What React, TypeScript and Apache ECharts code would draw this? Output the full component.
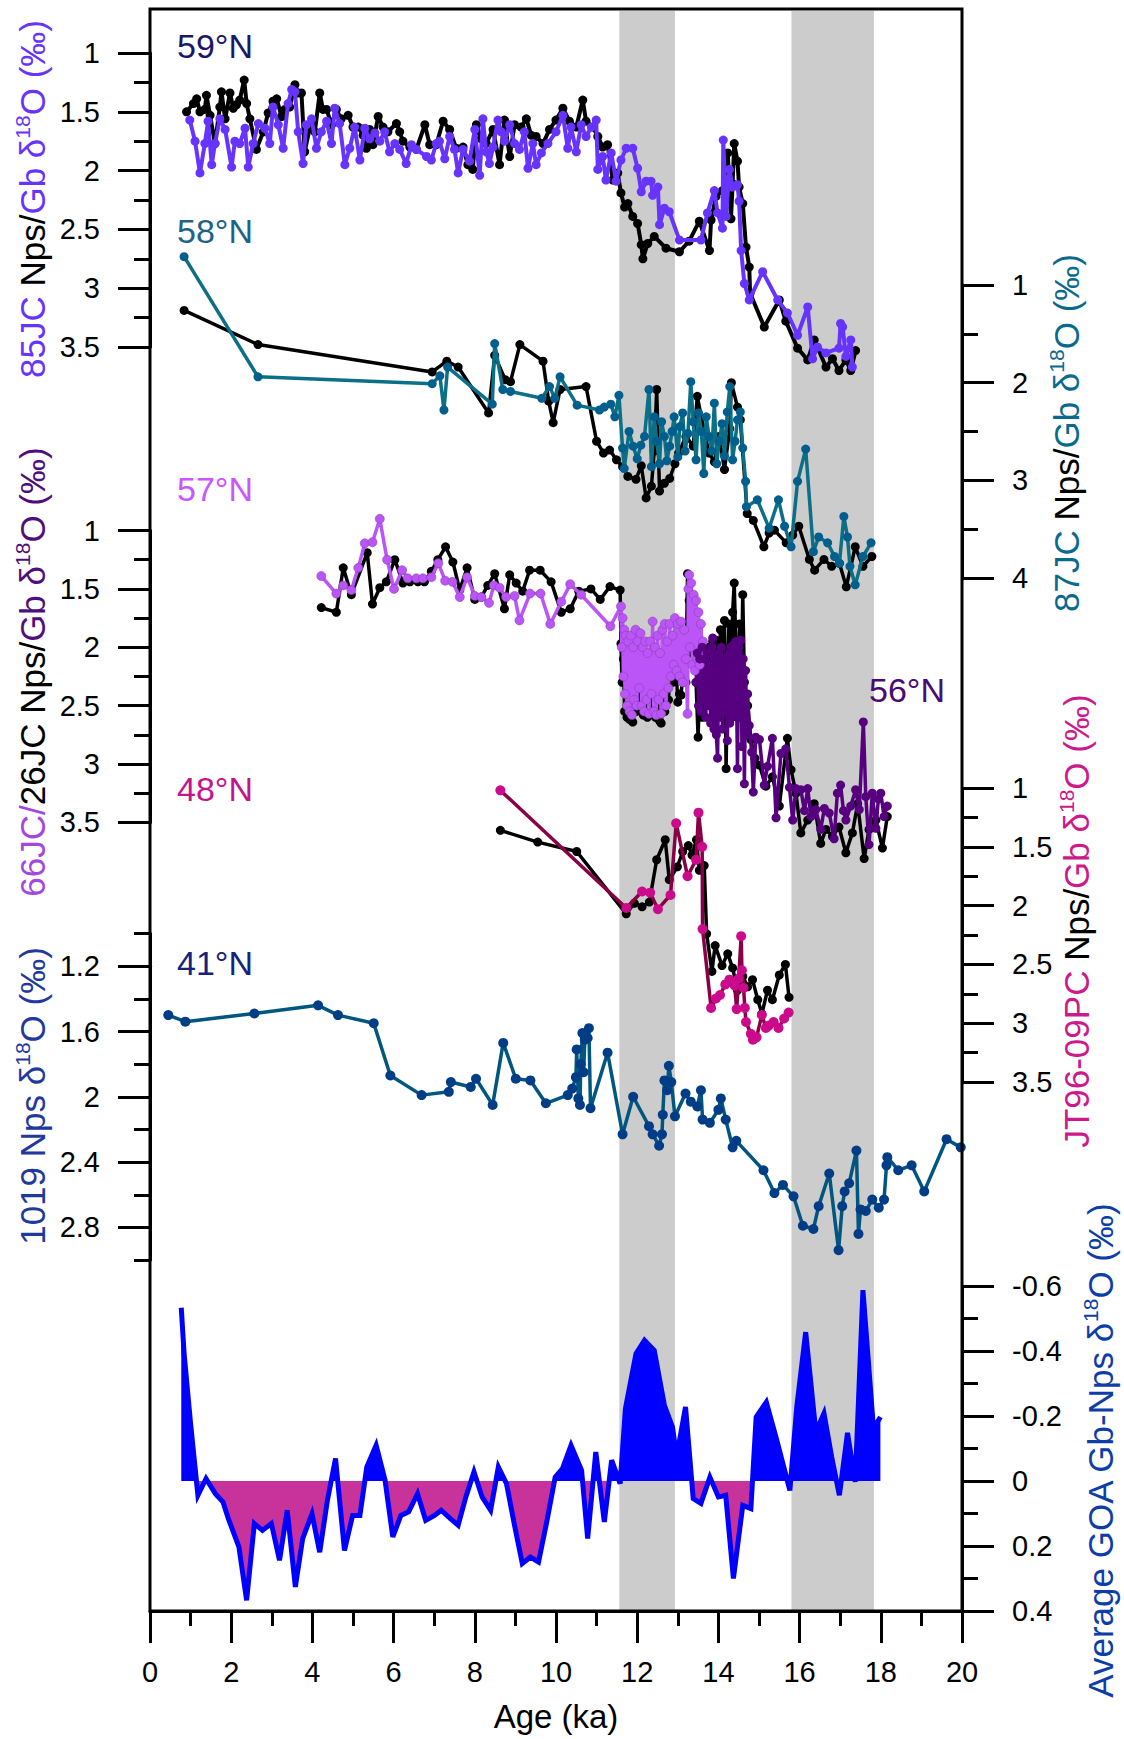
import React, { useEffect, useRef } from "react";
import * as echarts from "echarts";

// ---------- DATA (age ka, value permil) ----------
const ageTicks = [0, 2, 4, 6, 8, 10, 12, 14, 16, 18, 20];
const bands = [
  [11.56, 12.93],
  [15.8, 17.83],
];

// 59N, 85JC
const gb85 = [[0.98,1.57],[1.11,1.75],[1.23,2.02],[1.35,1.77],[1.43,1.58],[1.52,1.95],[1.60,1.77],[1.72,1.56],[1.85,1.65],[2.01,1.97],[2.09,1.75],[2.21,1.77],[2.34,1.64],[2.42,1.97],[2.54,1.77],[2.67,1.60],[2.83,1.64],[2.95,1.77],[3.03,1.46],[3.16,1.61],[3.28,1.81],[3.40,1.43],[3.49,1.31],[3.57,1.33],[3.65,1.67],[3.77,1.94],[3.85,1.61],[3.98,1.56],[4.10,1.81],[4.22,1.67],[4.35,1.58],[4.47,1.77],[4.55,1.47],[4.67,1.60],[4.80,1.95],[4.92,1.81],[5.04,1.63],[5.17,1.91],[5.29,1.64],[5.41,1.73],[5.54,1.68],[5.66,1.75],[5.78,1.67],[5.90,1.84],[6.03,1.77],[6.15,1.82],[6.31,1.94],[6.44,1.78],[6.56,1.82],[6.81,1.88],[6.93,1.91],[7.05,1.77],[7.13,1.75],[7.26,1.90],[7.38,1.71],[7.50,1.82],[7.59,2.02],[7.71,1.82],[7.87,1.92],[8.00,1.65],[8.12,2.04],[8.20,1.56],[8.28,1.84],[8.36,1.94],[8.45,1.80],[8.57,1.57],[8.65,1.67],[8.73,1.75],[8.86,1.61],[8.98,1.77],[9.10,1.82],[9.22,1.67],[9.31,1.98],[9.43,1.77],[9.51,1.95],[9.64,1.85],[9.80,1.77],[10.00,1.67],[10.17,1.53],[10.29,1.81],[10.37,1.63],[10.50,1.84],[10.62,1.61],[10.74,1.71],[10.87,1.63],[10.99,1.57],[11.03,1.99],[11.15,1.88],[11.23,2.08],[11.36,1.85],[11.48,2.09],[11.60,1.91],[11.73,1.81],[11.89,1.81],[12.01,1.98],[12.10,2.18],[12.22,2.09],[12.34,2.09],[12.38,2.21],[12.51,2.14],[12.55,2.46],[12.67,2.32],[12.79,2.35],[13.04,2.59],[13.57,2.59],[13.73,2.36],[13.90,2.17],[13.98,2.36],[14.10,2.49],[14.12,1.74],[14.19,2.39],[14.27,1.99],[14.35,2.14],[14.47,2.12],[14.51,2.26],[14.56,2.68],[14.64,2.96],[14.76,3.10],[15.09,2.86],[15.46,3.10],[15.70,3.21],[15.95,3.40],[16.20,3.16],[16.32,3.60],[16.44,3.50],[16.65,3.55],[16.97,3.51],[17.01,3.30],[17.06,3.33],[17.14,3.58],[17.26,3.44],[17.30,3.67]];
const nps85 = [[0.90,1.50],[1.07,1.43],[1.15,1.39],[1.23,1.50],[1.35,1.48],[1.39,1.36],[1.48,1.53],[1.60,1.77],[1.72,1.46],[1.76,1.33],[1.85,1.56],[1.97,1.34],[2.05,1.47],[2.13,1.44],[2.21,1.40],[2.32,1.23],[2.38,1.43],[2.46,1.56],[2.62,1.82],[2.79,1.67],[2.91,1.51],[3.03,1.41],[3.12,1.39],[3.24,1.54],[3.32,1.48],[3.44,1.46],[3.57,1.27],[3.65,1.34],[3.73,1.34],[3.81,1.84],[3.94,1.63],[4.06,1.67],[4.18,1.34],[4.26,1.48],[4.35,1.48],[4.47,1.61],[4.59,1.48],[4.71,1.56],[4.88,1.53],[5.00,1.63],[5.13,1.63],[5.25,1.70],[5.33,1.81],[5.41,1.65],[5.49,1.78],[5.62,1.54],[5.74,1.63],[5.86,1.67],[6.07,1.60],[6.15,1.67],[6.23,1.75],[6.40,1.80],[6.56,1.82],[6.77,1.61],[6.89,1.78],[7.05,1.78],[7.22,1.58],[7.38,1.65],[7.54,1.81],[7.71,1.80],[7.83,1.95],[7.95,1.99],[8.04,1.61],[8.16,1.73],[8.28,1.77],[8.45,1.65],[8.61,1.95],[8.73,1.57],[8.86,1.88],[8.98,1.61],[9.14,1.63],[9.27,1.56],[9.39,1.70],[9.51,1.71],[9.68,1.77],[9.84,1.65],[10.00,1.57],[10.17,1.47],[10.33,1.58],[10.50,1.63],[10.66,1.40],[10.74,1.58],[10.91,1.63],[11.03,1.71],[11.15,1.80],[11.27,1.78],[11.40,2.08],[11.52,2.02],[11.60,2.19],[11.69,2.31],[11.77,2.28],[11.89,2.39],[12.01,2.45],[12.10,2.63],[12.14,2.75],[12.26,2.62],[12.42,2.56],[12.71,2.66],[13.04,2.69],[13.28,2.60],[13.53,2.43],[13.78,2.68],[13.82,2.42],[13.94,2.22],[14.10,2.17],[14.23,1.85],[14.31,2.41],[14.35,2.11],[14.39,1.77],[14.47,1.92],[14.51,2.14],[14.60,2.28],[14.68,2.65],[14.76,2.82],[14.78,3.04],[15.13,3.33],[15.50,3.10],[15.66,3.28],[15.95,3.51],[16.20,3.61],[16.36,3.44],[16.65,3.67],[16.81,3.60],[16.97,3.70],[17.14,3.61],[17.26,3.70],[17.38,3.53]];

// 58N, 87JC
const gb87 = [[0.84,0.71],[2.66,1.94],[6.95,2.01],[7.14,1.93],[7.24,2.28],[7.33,1.84],[8.43,2.22],[8.49,1.60],[8.69,2.07],[8.88,2.09],[9.65,2.16],[9.84,2.04],[9.97,2.16],[10.10,1.94],[10.52,2.23],[11.07,2.28],[11.19,2.25],[11.35,2.22],[11.45,2.35],[11.55,2.13],[11.64,2.67],[11.68,2.88],[11.80,2.50],[11.90,2.65],[12.00,2.78],[12.09,2.64],[12.18,2.55],[12.29,2.07],[12.35,2.86],[12.42,2.35],[12.48,2.60],[12.55,2.83],[12.60,2.40],[12.67,2.55],[12.73,2.80],[12.80,2.65],[12.86,2.50],[12.91,2.35],[13.00,2.76],[13.05,2.45],[13.12,2.31],[13.18,2.70],[13.25,2.52],[13.32,1.99],[13.38,2.40],[13.45,2.79],[13.51,2.31],[13.58,2.50],[13.64,2.93],[13.70,2.35],[13.77,2.55],[13.84,2.70],[13.90,2.21],[13.96,2.83],[14.02,2.60],[14.09,2.42],[14.15,2.75],[14.22,2.30],[14.28,2.04],[14.35,2.79],[14.41,2.60],[14.47,2.38],[14.54,2.30],[14.60,2.67],[14.67,3.01],[14.69,3.27],[14.96,3.20],[15.25,3.49],[15.48,3.20],[15.63,3.47],[15.79,3.68],[15.95,3.01],[16.15,2.68],[16.34,3.73],[16.47,3.58],[16.69,3.64],[16.86,3.78],[16.98,3.85],[17.09,3.37],[17.18,3.58],[17.24,3.88],[17.37,4.07],[17.56,3.78],[17.76,3.64]];
const nps87 = [[0.84,1.26],[2.66,1.61],[6.95,1.89],[7.31,1.78],[7.59,1.84],[8.34,2.31],[8.49,1.72],[8.75,1.97],[8.88,1.99],[9.11,1.61],[9.68,1.78],[9.82,2.19],[9.93,2.41],[10.10,2.07],[10.74,2.04],[11.00,2.60],[11.17,2.72],[11.32,2.69],[11.49,2.79],[11.64,2.86],[11.77,2.96],[11.97,2.99],[12.10,2.85],[12.22,3.18],[12.35,3.06],[12.42,2.70],[12.48,2.07],[12.55,3.11],[12.67,3.03],[12.80,2.98],[12.93,2.83],[13.02,2.72],[13.20,2.55],[13.38,2.65],[13.48,2.14],[13.64,2.48],[13.77,2.72],[13.90,2.81],[14.02,2.55],[14.15,2.89],[14.28,2.47],[14.32,2.00],[14.47,2.25],[14.54,2.38],[14.71,3.34],[14.86,3.41],[15.12,3.68],[15.25,3.54],[15.38,3.51],[15.67,3.64],[15.83,3.56],[15.98,3.47],[16.24,3.81],[16.37,3.92],[16.60,3.81],[16.79,3.88],[16.98,3.85],[17.15,4.09],[17.37,3.68],[17.56,3.88],[17.78,3.78]];

// 57N, 66JC
const gb66 = [[4.22,1.39],[4.59,1.54],[4.76,1.47],[4.96,1.51],[5.13,1.32],[5.29,1.11],[5.48,1.10],[5.66,0.90],[5.84,1.25],[6.01,1.50],[6.21,1.34],[6.35,1.41],[6.56,1.41],[6.72,1.41],[6.93,1.40],[7.10,1.28],[7.27,1.43],[7.45,1.44],[7.63,1.57],[7.81,1.40],[8.00,1.56],[8.16,1.57],[8.35,1.62],[8.47,1.47],[8.61,1.49],[8.77,1.57],[8.98,1.56],[9.10,1.77],[9.36,1.54],[9.62,1.54],[9.86,1.80],[10.13,1.61],[10.35,1.46],[10.62,1.55],[11.34,1.82],[11.60,1.65],[11.62,2.00],[11.64,1.75],[11.66,2.25],[11.68,1.85],[11.70,2.40],[11.72,1.90],[11.75,2.50],[11.78,1.95],[11.81,2.55],[11.84,1.90],[11.87,2.58],[11.90,2.00],[11.93,2.45],[11.96,1.85],[11.99,2.50],[12.02,1.95],[12.05,2.35],[12.08,1.88],[12.11,2.50],[12.14,2.00],[12.17,2.55],[12.20,1.95],[12.23,2.45],[12.26,2.05],[12.29,2.57],[12.32,1.95],[12.35,2.40],[12.38,1.78],[12.41,2.55],[12.44,2.00],[12.47,2.58],[12.50,1.90],[12.53,2.45],[12.56,2.05],[12.59,2.57],[12.62,1.85],[12.65,2.40],[12.68,1.80],[12.71,2.50],[12.74,1.95],[12.77,2.35],[12.80,1.80],[12.83,2.25],[12.87,1.90],[12.90,2.15],[12.93,1.75],[12.97,2.20],[13.00,1.80],[13.04,2.25],[13.08,1.78],[13.12,2.30],[13.16,1.85],[13.20,2.10],[13.24,2.57],[13.26,1.50],[13.28,1.38],[13.30,2.00],[13.33,1.45],[13.36,2.15],[13.39,1.55],[13.42,2.20],[13.45,1.60],[13.48,2.10],[13.51,1.70],[13.54,2.15],[13.57,1.80],[13.60,2.05],[13.62,1.95]];
const nps66 = [[4.22,1.66],[4.59,1.70],[4.76,1.32],[4.96,1.55],[5.35,1.19],[5.48,1.63],[5.66,1.49],[5.82,1.44],[6.03,1.25],[6.23,1.45],[6.40,1.44],[6.60,1.44],[6.76,1.44],[6.93,1.35],[7.09,1.25],[7.28,1.14],[7.46,1.27],[7.63,1.51],[7.81,1.32],[8.00,1.59],[8.16,1.57],[8.32,1.47],[8.49,1.37],[8.73,1.67],[8.86,1.38],[9.02,1.45],[9.18,1.52],[9.35,1.34],[9.61,1.34],[9.88,1.44],[10.13,1.70],[10.35,1.67],[10.56,1.52],[10.86,1.50],[11.09,1.59],[11.33,1.48],[11.58,1.51],[11.60,1.97],[11.63,2.30],[11.66,2.10],[11.69,2.55],[11.72,2.20],[11.75,2.60],[11.78,2.25],[11.82,2.62],[11.86,2.35],[11.89,2.64],[11.93,2.30],[11.97,2.55],[12.01,2.20],[12.05,2.50],[12.10,2.25],[12.15,2.58],[12.20,2.30],[12.25,2.60],[12.30,2.28],[12.35,2.55],[12.40,2.25],[12.45,2.60],[12.50,2.35],[12.55,2.63],[12.59,2.65],[12.63,2.30],[12.68,2.55],[12.72,2.20],[12.77,2.45],[12.82,2.10],[12.87,2.30],[12.93,2.00],[13.00,2.47],[13.04,2.40],[13.08,2.41],[13.13,2.20],[13.20,2.30],[13.24,1.37],[13.28,1.60],[13.33,2.05],[13.38,1.70],[13.45,2.10],[13.50,1.85],[13.56,2.10]];

// 56N, 26JC
const gb26 = [[13.45,2.30],[13.48,2.05],[13.51,2.50],[13.54,2.10],[13.57,2.55],[13.60,2.00],[13.63,2.45],[13.66,2.10],[13.69,2.60],[13.72,2.05],[13.75,2.50],[13.78,2.15],[13.81,2.65],[13.84,2.00],[13.86,1.92],[13.89,2.70],[13.92,2.10],[13.95,2.75],[13.98,2.95],[14.01,2.05],[14.04,2.60],[14.07,2.00],[14.10,2.70],[14.13,2.10],[14.16,2.55],[14.19,2.15],[14.22,2.80],[14.25,2.05],[14.28,2.65],[14.31,2.00],[14.34,2.60],[14.37,1.98],[14.40,2.55],[14.43,1.95],[14.47,3.04],[14.50,2.00],[14.53,2.60],[14.55,1.94],[14.58,2.85],[14.61,2.10],[14.64,3.17],[14.67,2.20],[14.70,2.75],[14.72,2.40],[14.76,2.67],[14.82,2.90],[14.86,3.24],[14.92,2.77],[15.01,2.79],[15.13,3.18],[15.21,3.02],[15.33,2.78],[15.42,3.46],[15.54,2.91],[15.66,2.87],[15.75,3.20],[15.83,3.48],[15.91,3.21],[16.03,3.22],[16.12,3.40],[16.20,3.21],[16.28,3.45],[16.40,3.39],[16.52,3.56],[16.61,3.38],[16.73,3.42],[16.85,3.64],[16.93,3.25],[17.01,3.18],[17.08,3.40],[17.14,3.48],[17.26,3.36],[17.38,3.22],[17.47,3.39],[17.57,2.64],[17.63,3.28],[17.71,3.69],[17.79,3.25],[17.88,3.55],[17.94,3.30],[18.00,3.25],[18.08,3.45],[18.16,3.36]];
const nps26 = [[13.45,2.30],[13.50,2.77],[13.55,2.20],[13.60,2.60],[13.65,2.10],[13.70,2.50],[13.75,2.00],[13.80,2.40],[13.86,1.95],[13.90,2.30],[13.94,1.94],[14.00,2.40],[14.05,1.85],[14.10,2.30],[14.15,1.77],[14.19,3.04],[14.22,2.30],[14.26,1.80],[14.30,2.50],[14.35,1.70],[14.39,1.45],[14.43,2.00],[14.47,2.60],[14.52,1.80],[14.56,2.40],[14.60,1.55],[14.64,2.30],[14.68,2.70],[14.72,2.50],[14.80,2.79],[14.90,2.95],[15.01,3.01],[15.17,3.19],[15.33,3.11],[15.50,3.36],[15.70,2.78],[15.79,3.05],[15.91,3.25],[16.03,3.59],[16.20,3.48],[16.36,3.34],[16.52,3.68],[16.65,3.56],[16.81,3.62],[16.97,3.54],[17.14,3.76],[17.30,3.59],[17.43,3.34],[17.59,3.81],[17.71,3.56],[17.88,3.48],[18.04,3.72],[18.16,3.45]];

// 48N, JT96-09PC
const gbJT = [[8.63,1.02],[11.73,2.02],[12.12,1.88],[12.32,1.89],[12.51,2.03],[12.82,1.91],[12.96,1.30],[13.24,1.75],[13.45,1.61],[13.51,1.21],[13.60,1.50],[13.61,2.20],[13.82,2.87],[13.94,2.79],[14.04,2.76],[14.17,2.67],[14.27,2.63],[14.40,2.68],[14.45,2.88],[14.50,2.62],[14.56,2.26],[14.58,2.55],[14.62,2.70],[14.65,2.87],[14.68,2.99],[14.80,3.09],[14.85,3.14],[14.94,3.12],[15.07,2.93],[15.17,3.04],[15.24,3.02],[15.36,2.99],[15.48,3.04],[15.62,2.96],[15.73,2.91]];
const npsJT = [[8.63,1.36],[9.55,1.46],[10.51,1.54],[11.73,2.07],[11.93,1.98],[12.12,2.01],[12.30,1.97],[12.48,1.61],[12.69,1.44],[12.79,1.78],[12.99,1.67],[13.12,1.54],[13.26,1.49],[13.35,1.57],[13.46,1.44],[13.53,1.70],[13.65,1.66],[13.71,2.24],[13.84,2.56],[13.92,2.34],[14.09,2.51],[14.23,2.41],[14.35,2.53],[14.47,2.72],[14.60,2.60],[14.72,2.69],[14.84,2.63],[14.97,2.80],[15.07,2.92],[15.21,2.72],[15.33,2.80],[15.50,2.59],[15.65,2.50],[15.74,2.78]];

// 41N, ODP 1019
const nps1019 = [[0.45,1.50],[0.87,1.54],[2.57,1.49],[4.14,1.44],[4.63,1.50],[5.51,1.55],[5.92,1.87],[6.69,1.99],[7.36,1.97],[7.41,1.91],[7.90,1.94],[8.03,1.89],[8.44,2.05],[8.70,1.67],[9.01,1.89],[9.37,1.90],[9.75,2.04],[10.29,1.99],[10.40,1.95],[10.49,1.88],[10.51,1.71],[10.55,2.01],[10.59,2.05],[10.61,1.80],[10.65,1.61],[10.68,1.85],[10.71,1.65],[10.78,1.64],[10.81,1.58],[10.85,2.07],[11.27,1.73],[11.64,2.23],[11.90,2.00],[12.29,2.18],[12.38,2.23],[12.54,2.30],[12.61,2.23],[12.63,2.11],[12.67,1.90],[12.74,1.96],[12.78,1.81],[12.84,1.91],[12.93,2.12],[13.19,1.98],[13.32,2.03],[13.48,2.06],[13.57,1.96],[13.61,2.14],[13.79,2.16],[14.00,2.08],[14.06,2.01],[14.18,2.14],[14.35,2.31],[14.44,2.27],[15.11,2.45],[15.38,2.59],[15.59,2.54],[15.85,2.61],[16.08,2.79],[16.34,2.81],[16.47,2.67],[16.73,2.47],[16.96,2.94],[17.05,2.67],[17.11,2.58],[17.22,2.53],[17.40,2.33],[17.45,2.84],[17.50,2.69],[17.63,2.70],[17.79,2.63],[17.95,2.68],[18.08,2.63],[18.14,2.42],[18.16,2.37],[18.43,2.45],[18.76,2.42],[19.07,2.58],[19.62,2.26],[19.97,2.31]];

// Average GOA Gb-Nps
const avgDiff = [[0.77,-0.533],[0.84,-0.392],[1.00,-0.176],[1.18,0.044],[1.38,-0.007],[1.61,0.039],[1.80,0.065],[1.93,0.116],[2.19,0.203],[2.38,0.367],[2.57,0.131],[2.77,0.152],[2.99,0.131],[3.19,0.244],[3.38,0.090],[3.58,0.326],[3.76,0.177],[3.99,0.101],[4.18,0.219],[4.37,0.059],[4.57,-0.069],[4.79,0.214],[4.99,0.106],[5.17,0.106],[5.34,-0.043],[5.57,-0.110],[5.79,-0.002],[5.98,0.172],[6.18,0.106],[6.37,0.095],[6.59,0.039],[6.79,0.121],[7.01,0.106],[7.17,0.090],[7.40,0.116],[7.59,0.136],[7.78,0.049],[7.98,-0.028],[8.18,0.049],[8.39,0.090],[8.58,-0.043],[8.78,0.008],[8.97,0.131],[9.17,0.254],[9.37,0.234],[9.57,0.249],[9.78,0.121],[9.98,-0.012],[10.16,-0.038],[10.37,-0.110],[10.63,-0.033],[10.78,0.177],[10.98,-0.089],[11.19,0.126],[11.37,-0.064],[11.58,0.008],[11.71,-0.223],[11.97,-0.392],[12.18,-0.433],[12.42,-0.402],[12.67,-0.233],[12.87,-0.166],[12.97,-0.074],[13.19,-0.228],[13.38,0.054],[13.57,0.069],[13.79,-0.012],[14.00,0.049],[14.18,0.044],[14.37,0.300],[14.60,0.075],[14.80,0.085],[14.93,-0.197],[15.18,-0.243],[15.44,-0.125],[15.76,0.029],[15.93,-0.228],[16.15,-0.458],[16.40,-0.151],[16.60,-0.208],[16.79,-0.074],[16.98,0.044],[17.18,-0.148],[17.37,0.003],[17.56,-0.587],[17.82,-0.161],[17.99,-0.197]];

// ---------- STYLE ----------
const FONT = "'Liberation Sans', Arial, Helvetica, sans-serif";
const PLOT_L = 150;
const PLOT_W = 812;
const TICK_W = 3;

const C = {
  purple: "#6633FF",
  teal: "#0B6F86",
  tealDot: "#005F8C",
  lilac: "#BB55F8",
  plum: "#560080",
  maroon: "#8A0046",
  magenta: "#CC0A8C",
  blueLine: "#00567F",
  blueDot: "#003D86",
  blue: "#0000FF",
  pink: "#C7339A",
  band: "#CCCCCC",
};

// panel vertical positions (layout, px)
const panels = [
  { top: 9, bottom: 1611 }, // frame / bands / x axis
  { top: 53, bottom: 347 }, // 59N left
  { top: 285, bottom: 578 }, // 58N right
  { top: 530.5, bottom: 822.4 }, // 57/56N left
  { top: 788, bottom: 1082 }, // 48N right
  { top: 933.5, bottom: 1260 }, // 41N, 1.0..3.0 minor ticks
  { top: 966.2, bottom: 1227.4 }, // 41N labelled 1.2..2.8
  { top: 1286, bottom: 1611 }, // average
];

function yAx(gi: number, pos: string, min: number, max: number, interval: number, labels = true, majorLen = 32, minor = true) {
  return {
    type: "value",
    gridIndex: gi,
    position: pos,
    inverse: true,
    min,
    max,
    interval,
    axisLine: { show: true, onZero: false, lineStyle: { color: "#000", width: 3 } },
    splitLine: { show: false },
    axisTick: { show: true, inside: false, length: majorLen, lineStyle: { color: "#000", width: TICK_W } },
    minorTick: { show: minor, splitNumber: 2, length: 16, lineStyle: { color: "#000", width: TICK_W } },
    minorSplitLine: { show: false },
    axisLabel: { show: labels, margin: 50, fontSize: 29, color: "#000", fontFamily: FONT },
  };
}

function lineSeries(data: number[][], gi: number, yi: number, lineColor: string, dotColor: string, size: number, width: number, z: number, border?: string) {
  return {
    type: "line",
    xAxisIndex: gi,
    yAxisIndex: yi,
    data,
    symbol: "circle",
    symbolSize: size,
    showSymbol: true,
    showAllSymbol: true,
    clip: false,
    z,
    lineStyle: { color: lineColor, width },
    itemStyle: { color: dotColor, borderColor: border || dotColor, borderWidth: border ? 0.6 : 0 },
    emphasis: { disabled: true },
  };
}

function title(x: number, y: number, parts: [string, string, boolean?][]) {
  const rich: any = {};
  let text = "";
  parts.forEach((p, i) => {
    const key = "t" + i;
    rich[key] = p[2]
      ? { fill: p[1], fontSize: 21, fontFamily: FONT, verticalAlign: "top", lineHeight: 40 }
      : { fill: p[1], fontSize: 35, fontFamily: FONT, lineHeight: 40 };
    text += "{" + key + "|" + p[0] + "}";
  });
  return {
    type: "text",
    x,
    y,
    rotation: Math.PI / 2,
    z: 50,
    style: {
      text,
      rich,
      fontSize: 35,
      fontFamily: FONT,
      align: "center",
      verticalAlign: "middle",
      textAlign: "center",
      textVerticalAlign: "middle",
    },
  };
}

function label(x: number, y: number, text: string, color: string) {
  return {
    type: "text",
    x,
    y,
    z: 50,
    style: {
      text,
      fill: color,
      fontSize: 34,
      fontFamily: FONT,
      align: "left",
      verticalAlign: "middle",
      textAlign: "left",
      textVerticalAlign: "middle",
    },
  };
}

export default function App() {
  const ref = useRef<HTMLDivElement>(null);

  useEffect(() => {
    if (!ref.current) return;
    const chart = echarts.init(ref.current, null, { renderer: "svg", width: 1124, height: 1739 });

    const grid = panels.map((p) => ({ left: PLOT_L, width: PLOT_W, top: p.top, height: p.bottom - p.top, containLabel: false, show: false }));

    const xAxis = panels.map((_, i) =>
      i === 0
        ? {
            type: "value",
            gridIndex: 0,
            position: "bottom",
            min: ageTicks[0],
            max: ageTicks[ageTicks.length - 1],
            interval: ageTicks[1] - ageTicks[0],
            axisLine: { show: true, onZero: false, lineStyle: { color: "#000", width: 3 } },
            splitLine: { show: false },
            axisTick: { show: true, inside: false, length: 32, lineStyle: { color: "#000", width: TICK_W } },
            minorTick: { show: true, splitNumber: 2, length: 15, lineStyle: { color: "#000", width: TICK_W } },
            minorSplitLine: { show: false },
            axisLabel: { margin: 46, fontSize: 29, color: "#000", fontFamily: FONT },
          }
        : { type: "value", gridIndex: i, min: 0, max: 20, show: false, axisLine: { onZero: false } }
    );

    const yAxis = [
      { type: "value", gridIndex: 0, min: 0, max: 1, show: false, axisLine: { onZero: false } },
      yAx(1, "left", 1, 3.5, 0.5),
      yAx(2, "right", 1, 4, 1),
      yAx(3, "left", 1, 3.5, 0.5),
      yAx(4, "right", 1, 3.5, 0.5),
      yAx(5, "left", 1, 3, 1, false, 16, false),
      yAx(6, "left", 1.2, 2.8, 0.4),
      yAx(7, "right", -0.6, 0.4, 0.2),
    ];

    // two-colour fill split at zero (zero lies at 60% of the -0.6..0.4 panel)
    const p6 = panels[7];
    const zeroFrac = 0.6;
    const splitFill = new echarts.graphic.LinearGradient(
      0, p6.top, 0, p6.bottom,
      [
        { offset: 0, color: C.blue },
        { offset: zeroFrac, color: C.blue },
        { offset: zeroFrac, color: C.pink },
        { offset: 1, color: C.pink },
      ],
      true
    );

    const series: any[] = [
      {
        type: "custom",
        xAxisIndex: 0,
        yAxisIndex: 0,
        data: bands,
        z: 0,
        silent: true,
        renderItem: (params: any, api: any) => {
          const a = api.coord([api.value(0), 0]);
          const b = api.coord([api.value(1), 1]);
          return {
            type: "rect",
            shape: { x: a[0], y: b[1] + 2, width: b[0] - a[0], height: a[1] - b[1] - 2 },
            style: { fill: C.band },
          };
        },
      },
      lineSeries(nps85, 1, 1, "#000", "#000", 9, 4, 3),
      lineSeries(gb85, 1, 1, C.purple, C.purple, 9, 4, 4),
      lineSeries(nps87, 2, 2, "#000", "#000", 9, 3.5, 3),
      lineSeries(gb87, 2, 2, C.teal, C.tealDot, 9, 3.5, 4),
      lineSeries(nps66, 3, 3, "#000", "#000", 9, 3.5, 3),
      lineSeries(nps26, 3, 3, "#000", "#000", 9, 3.5, 3),
      lineSeries(gb66, 3, 3, C.lilac, C.lilac, 9, 3.5, 4, "#8a3fb0"),
      lineSeries(gb26, 3, 3, C.plum, C.plum, 9, 3.5, 4),
      lineSeries(npsJT, 4, 4, "#000", "#000", 9, 3.5, 3),
      lineSeries(gbJT, 4, 4, C.maroon, C.magenta, 10, 3.5, 4),
      lineSeries(nps1019, 5, 5, C.blueLine, C.blueDot, 10, 3.5, 4),
      {
        type: "line",
        xAxisIndex: 7,
        yAxisIndex: 7,
        data: avgDiff,
        symbol: "none",
        showSymbol: false,
        lineStyle: { width: 0, opacity: 0 },
        areaStyle: { opacity: 1, origin: "auto", color: splitFill },
        z: 2,
        silent: true,
      },
      {
        type: "line",
        xAxisIndex: 7,
        yAxisIndex: 7,
        data: avgDiff,
        symbol: "none",
        showSymbol: false,
        lineStyle: { width: 5, color: C.blue, join: "miter" },
        itemStyle: { color: C.blue },
        z: 5,
        silent: true,
      },
    ];

    const graphic = [
      {
        type: "rect",
        z: 100,
        silent: true,
        shape: { x: PLOT_L, y: panels[0].top, width: PLOT_W, height: panels[0].bottom - panels[0].top },
        style: { fill: "none", stroke: "#000", lineWidth: 3 },
      },
      label(177, 46, "59°N", "#17176B"),
      label(177, 231, "58°N", "#1E6284"),
      label(177, 489, "57°N", "#CC55FF"),
      label(177, 789, "48°N", "#C4148C"),
      label(177, 963, "41°N", "#15237C"),
      label(869, 690, "56°N", "#4B0A73"),
      title(32, 199, [["85JC ", C.purple], ["Nps/", "#000"], ["Gb δ", C.purple], ["18", C.purple, true], ["O (‰)", C.purple]]),
      title(32, 672, [["66JC/", "#A447DC"], ["26JC Nps/", "#000"], ["Gb δ", "#4F0E7E"], ["18", "#4F0E7E", true], ["O (‰)", "#4F0E7E"]]),
      title(32, 1096, [["1019 Nps δ", "#1F3A9C"], ["18", "#1F3A9C", true], ["O (‰)", "#1F3A9C"]]),
      title(1066, 433, [["87JC ", "#0A6A8E"], ["Nps/", "#000"], ["Gb δ", "#0A6A8E"], ["18", "#0A6A8E", true], ["O (‰)", "#0A6A8E"]]),
      title(1076, 921, [["JT96-09PC ", "#CC1A8C"], ["Nps/", "#000"], ["Gb δ", "#CC1A8C"], ["18", "#CC1A8C", true], ["O (‰)", "#CC1A8C"]]),
      title(1100, 1451, [["Average GOA Gb-Nps δ", "#0D3EA8"], ["18", "#0D3EA8", true], ["O (‰)", "#0D3EA8"]]),
      {
        type: "text",
        x: 556,
        y: 1716,
        z: 50,
        style: {
          text: "Age (ka)",
          fill: "#000",
          fontSize: 33,
          fontFamily: FONT,
          align: "center",
          verticalAlign: "middle",
          textAlign: "center",
          textVerticalAlign: "middle",
        },
      },
    ];

    chart.setOption({
      animation: false,
      backgroundColor: "#ffffff",
      grid,
      xAxis,
      yAxis,
      series,
      graphic,
    });

    return () => chart.dispose();
  }, []);

  return (
    <div
      ref={ref}
      style={{ position: "fixed", left: 0, top: 0, width: 1124, height: 1739, background: "#fff" }}
    />
  );
}
